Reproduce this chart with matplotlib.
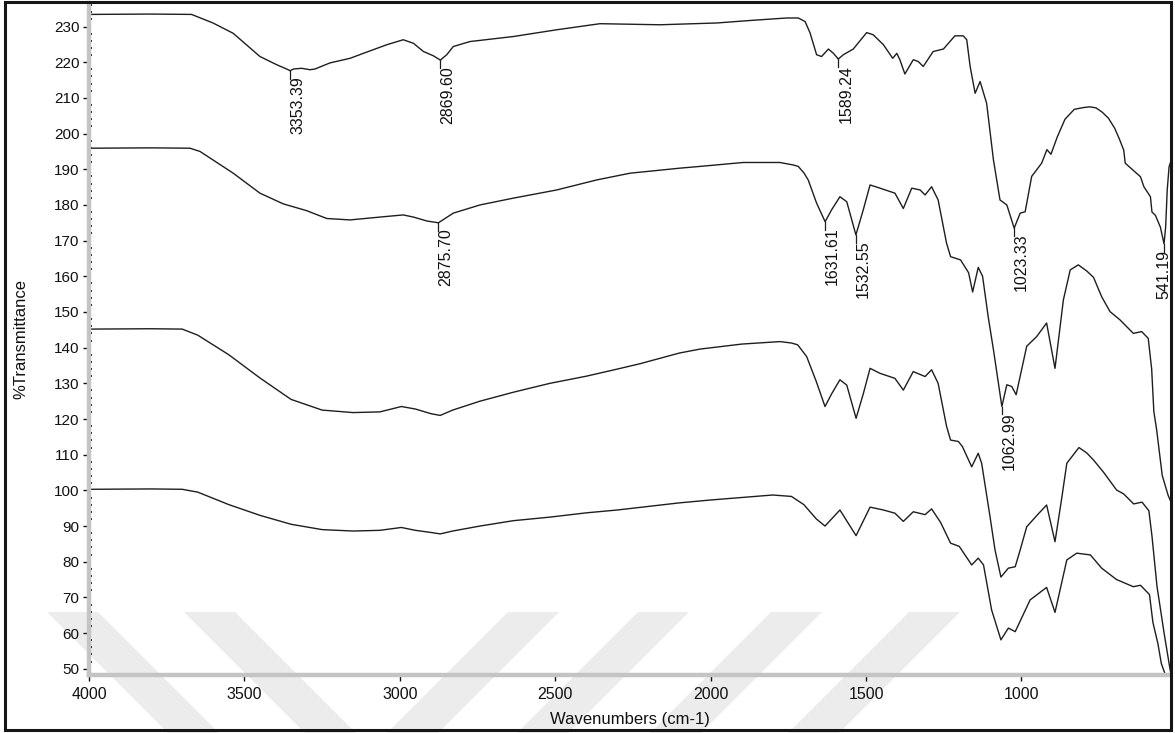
import matplotlib
matplotlib.use("Agg")
import matplotlib.pyplot as plt
from matplotlib.patches import Polygon, Rectangle
from matplotlib.ticker import MultipleLocator

plt.rcParams['font.family'] = ['Liberation Sans', 'DejaVu Sans']

# ---- spectra: wavenumber (cm-1) and %T, stacked with vertical offsets ----
wn_a = [4000, 3800, 3670, 3601, 3536, 3450, 3396, 3359, 3353.39, 3342, 3316, 3289, 3273,
        3225, 3160, 3117, 3042, 2989, 2956, 2924, 2892, 2869.60, 2849, 2828, 2774,
        2635, 2495, 2356, 2163, 1980, 1873, 1755, 1718, 1696, 1680, 1659, 1643, 1621,
        1605, 1589.24, 1573, 1541, 1498, 1477, 1444, 1414, 1401, 1391, 1375, 1348,
        1332, 1316, 1284, 1251, 1214, 1187, 1176, 1165, 1149, 1133, 1112, 1090, 1069,
        1047, 1023.33, 1004, 988, 967, 935, 918, 905, 885, 860, 830, 800, 780, 760,
        740, 720, 700, 685, 671, 666, 617, 606, 585, 580, 569, 553, 541.19, 536, 531,
        525, 520]
pct_a = [233.4, 233.5, 233.4, 231.0, 228.1, 221.6, 219.3, 217.9, 217.6, 218.1, 218.3,
         217.9, 218.1, 219.8, 221.1, 222.5, 224.9, 226.3, 225.3, 223.0, 221.8, 220.6,
         222.1, 224.4, 225.8, 227.2, 229.1, 230.8, 230.5, 231.0, 231.7, 232.4, 232.4,
         231.4, 228.2, 222.1, 221.6, 223.7, 222.5, 220.9, 222.1, 223.7, 228.3, 227.7,
         224.9, 221.1, 222.5, 220.7, 216.7, 220.7, 220.2, 218.8, 223.0, 223.7, 227.4,
         227.4, 226.3, 218.8, 211.3, 214.6, 208.5, 192.6, 181.4, 180.0, 173.5, 177.7,
         178.1, 188.0, 191.7, 195.5, 194.2, 199.0, 204.0, 206.8, 207.3, 207.5, 207.2,
         206.0, 204.3, 201.5, 198.5, 195.4, 191.7, 187.9, 185.1, 182.3, 178.0, 177.1,
         173.8, 169.1, 173.8, 184.1, 190.7, 192.0]

wn_b = [4000, 3800, 3675, 3643, 3536, 3450, 3375, 3300, 3235, 3160, 3064, 2989, 2956,
        2913, 2875.70, 2828, 2742, 2635, 2495, 2367, 2259, 2100, 2034, 1895, 1777,
        1734, 1718, 1700, 1686, 1659, 1631.61, 1611, 1584, 1562, 1532.55, 1509, 1487,
        1455, 1407, 1380, 1353, 1326, 1310, 1289, 1268, 1241, 1228, 1196, 1170, 1157,
        1139, 1125, 1107, 1090, 1062.99, 1047, 1031, 1017, 983, 951, 919, 892, 865,
        843, 817, 790, 768, 742, 715, 683, 640, 613, 592, 581, 574, 565, 547, 528, 520]
pct_b = [195.9, 196.0, 195.9, 195.0, 188.9, 183.3, 180.3, 178.4, 176.2, 175.8, 176.6,
         177.2, 176.6, 175.5, 175.0, 177.7, 180.0, 181.9, 184.2, 187.0, 188.9, 190.3,
         190.8, 191.9, 191.9, 191.2, 190.8, 189.0, 187.0, 180.5, 175.3, 178.6, 182.3,
         180.9, 171.6, 178.6, 185.6, 184.7, 183.3, 179.0, 184.7, 184.2, 182.8, 185.1,
         181.4, 169.3, 165.5, 164.6, 161.0, 155.6, 162.5, 160.0, 148.7, 139.4, 123.5,
         129.6, 129.1, 126.8, 140.4, 143.1, 146.9, 134.2, 153.4, 161.8, 163.2, 161.5,
         159.7, 154.3, 150.1, 147.8, 144.0, 144.5, 142.6, 134.0, 122.1, 117.0, 104.2,
         98.6, 97.0]

wn_c = [4000, 3800, 3700, 3650, 3550, 3450, 3350, 3250, 3150, 3064, 2995, 2950, 2900,
        2870, 2830, 2742, 2635, 2517, 2400, 2300, 2227, 2100, 2034, 1900, 1777, 1740,
        1720, 1691, 1660, 1632, 1611, 1584, 1562, 1532, 1509, 1487, 1455, 1407, 1380,
        1348, 1310, 1289, 1268, 1241, 1228, 1203, 1190, 1160, 1139, 1128, 1101, 1085,
        1066, 1042, 1020, 1004, 983, 950, 919, 892, 870, 854, 815, 790, 768, 736, 694,
        671, 639, 612, 590, 580, 564, 541, 525, 520]
pct_c = [145.2, 145.3, 145.2, 143.5, 138.0, 131.5, 125.5, 122.5, 121.8, 122.0, 123.5,
         122.8, 121.5, 121.0, 122.5, 125.0, 127.5, 130.0, 132.0, 134.0, 135.5, 138.5,
         139.6, 141.0, 141.7, 141.3, 140.8, 137.5, 130.5, 123.5, 127.0, 131.0, 129.5,
         120.2, 127.0, 134.2, 132.8, 131.4, 128.1, 133.3, 131.9, 133.8, 130.0, 118.0,
         114.1, 113.7, 112.3, 106.6, 110.4, 107.6, 92.6, 83.3, 75.7, 78.2, 78.6, 83.3,
         89.8, 93.0, 95.9, 85.6, 98.0, 107.6, 112.0, 110.5, 108.5, 105.1, 100.1, 99.0,
         96.2, 96.7, 94.3, 87.2, 73.2, 60.0, 51.5, 49.0]

wn_d = [4000, 3800, 3700, 3650, 3550, 3450, 3350, 3250, 3150, 3064, 2995, 2950, 2900,
        2870, 2830, 2742, 2635, 2517, 2400, 2300, 2200, 2100, 2000, 1900, 1800, 1740,
        1700, 1660, 1632, 1584, 1532, 1487, 1444, 1407, 1380, 1348, 1310, 1289, 1260,
        1228, 1200, 1160, 1139, 1122, 1096, 1066, 1042, 1020, 972, 919, 892, 854, 822,
        778, 742, 694, 640, 617, 588, 577, 561, 550, 539, 530]
pct_d = [100.3, 100.4, 100.3, 99.5, 96.0, 93.0, 90.5, 89.0, 88.6, 88.8, 89.6, 88.8,
         88.2, 87.8, 88.6, 90.0, 91.5, 92.5, 93.7, 94.5, 95.5, 96.5, 97.3, 98.0, 98.7,
         98.3, 96.0, 92.0, 90.0, 94.5, 87.3, 95.3, 94.5, 93.6, 91.3, 94.0, 93.2, 94.8,
         91.0, 85.2, 84.3, 79.1, 81.0, 79.1, 66.5, 58.1, 61.4, 60.4, 69.3, 72.8, 65.8,
         80.5, 82.4, 81.9, 78.2, 75.0, 73.0, 73.4, 70.8, 63.0, 57.1, 51.5, 48.8, 46.0]

# peak labels: (wavenumber, text, spectrum index)
peak_wn = [3353.39, 2869.60, 1589.24, 1023.33, 541.19, 2875.70, 1631.61, 1532.55, 1062.99]
peak_txt = ["3353.39", "2869.60", "1589.24", "1023.33", "541.19",
            "2875.70", "1631.61", "1532.55", "1062.99"]
peak_series = [0, 0, 0, 0, 0, 1, 1, 1, 1]

y_ticks = list(range(50, 231, 10))
x_ticks = [4000, 3500, 3000, 2500, 2000, 1500, 1000]

W, H = 1175, 733
fig = plt.figure(figsize=(W / 100, H / 100), dpi=100)
fig.patch.set_facecolor("white")

# faint diagonal watermark bands along the bottom, behind everything
def band(x_top, lean):
    y0, y1, w = 612, 745, 51
    d = y1 - y0
    pts = [(x_top, y0), (x_top + w, y0), (x_top + w + lean * d, y1), (x_top + lean * d, y1)]
    return Polygon([(px / W, 1 - py / H) for px, py in pts], closed=True,
                   transform=fig.transFigure, facecolor="#ececec", edgecolor="none", zorder=-5)

for xt, ln in [(47, 1), (184, 1), (508, -1), (638, -1), (771, -1), (909, -1)]:
    fig.patches.append(band(xt, ln))

ax = fig.add_axes([89 / W, 1 - 675 / H, (1170 - 89) / W, (675 - 3) / H])
ax.set_facecolor("none")
ax.set_zorder(2)

series = [(wn_a, pct_a), (wn_b, pct_b), (wn_c, pct_c), (wn_d, pct_d)]
for xs, ys in series:
    ax.plot(xs, ys, color="#1e1e1e", lw=1.0, solid_joinstyle="round")

for wn, txt, si in zip(peak_wn, peak_txt, peak_series):
    xs, ys = series[si]
    yv = ys[xs.index(wn)]
    ax.plot([wn, wn], [yv, yv - 2.2], color="#1e1e1e", lw=0.9)
    edge = wn < 600
    ax.text(wn, yv - 1.6, txt, rotation=90, ha="center" if edge else "left", va="top",
            fontsize=11.5, color="#111111")

ax.set_xlim(4000, 522)
ax.set_ylim(48.25, 236.6)
ax.set_xticks(x_ticks)
ax.set_yticks(y_ticks)
ax.xaxis.set_minor_locator(MultipleLocator(100))
ax.yaxis.set_minor_locator(MultipleLocator(2))

for s in ["top", "right"]:
    ax.spines[s].set_visible(False)
for s in ["left", "bottom"]:
    ax.spines[s].set_color("#c4c4c4")
    ax.spines[s].set_linewidth(3.2)

ax.tick_params(which="major", direction="out", length=4.5, width=1.0, color="#111111",
               labelcolor="#111111", pad=2.5)
ax.tick_params(axis="y", which="major", labelsize=11)
ax.tick_params(axis="x", which="major", labelsize=11.5, pad=4)
ax.tick_params(which="minor", direction="in", length=1.8, width=1.4, color="#111111")

ax.set_xlabel("Wavenumbers (cm-1)", fontsize=12, color="#111111", labelpad=7)
ax.set_ylabel("%Transmittance", fontsize=12, color="#111111", labelpad=18)

# outer frame around the whole chart
fig.patches.append(Rectangle((5 / W, 1 - 730 / H), (1171 - 5) / W, (730 - 2) / H,
                             transform=fig.transFigure, fill=False, edgecolor="#151515",
                             linewidth=2.2, zorder=10))

fig.savefig("out.png", dpi=100)
